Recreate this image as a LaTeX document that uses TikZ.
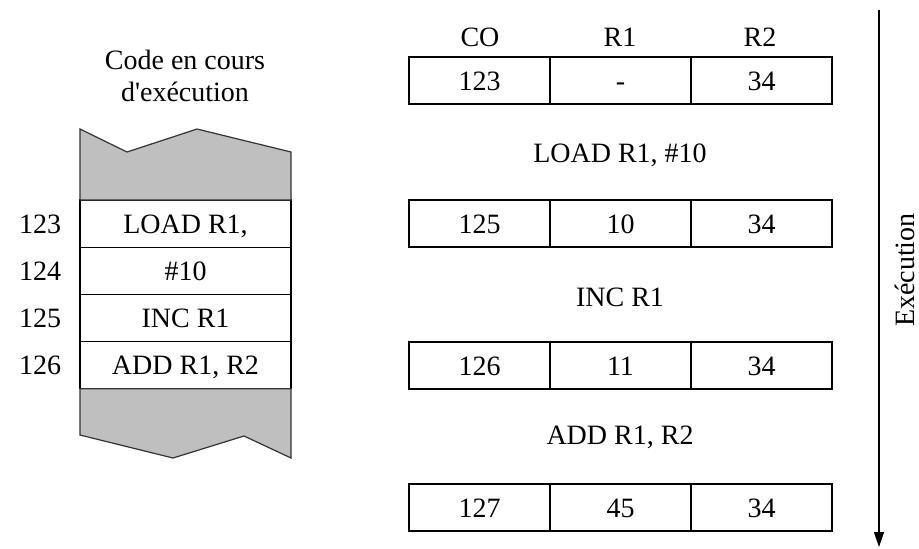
\documentclass[tikz,border=0pt]{standalone}
\usepackage{fontspec}
\setmainfont{Liberation Serif}
\usetikzlibrary{positioning,arrows.meta}

\begin{document}
\begin{tikzpicture}[x=0.5pt,y=-0.5pt, font=\fontsize{14}{16}\selectfont, line width=0.6pt,
  memcell/.style={draw, minimum width=105.5pt, minimum height=23.6pt, inner sep=0pt, outer sep=0pt,
    text height=11.5pt, text depth=2pt},
  regcell/.style={draw, minimum width=70.5pt, minimum height=23.5pt, inner sep=0pt, outer sep=0pt,
    text height=11.5pt, text depth=2pt, anchor=north west},
  zone/.style={fill=black!25, draw=black!80}]
\useasboundingbox (0,0) rectangle (919,548);

% code en memoire
\node[align=center] (titre) at (185,76) {Code en cours\\d\textquotesingle exécution};

\node[memcell, anchor=north west] (m123) at (80,200) {LOAD R1,};
\node[memcell, below=0pt of m123] (m124) {\#10};
\node[memcell, below=0pt of m124] (m125) {INC R1};
\node[memcell, below=0pt of m125] (m126) {ADD R1, R2};

\filldraw[zone] (m123.north west) -- (80,129) -- (127,152) -- (197,129) -- (291,152) -- (m123.north east) -- cycle;
\filldraw[zone] (m126.south west) -- (80,435) -- (173,458) -- (244,436) -- (291,458) -- (m126.south east) -- cycle;

\node (a123) at (40,224) {123};
\node (a124) at (40,271) {124};
\node (a125) at (40,318) {125};
\node (a126) at (40,365) {126};

% etats des registres
\node (hco) at (480,37) {CO};
\node (hr1) at (620,37) {R1};
\node (hr2) at (760,37) {R2};

\foreach \y/\s/\co/\ra/\rb in {57/1/123/-/34, 200/2/125/10/34, 342/3/126/11/34, 484/4/127/45/34} {
  \node[regcell] (co\s) at (409,\y) {\co};
  \node[regcell, right=0pt of co\s] (ra\s) {\ra};
  \node[regcell, right=0pt of ra\s] (rb\s) {\rb};
}

\node (i1) at (620,155) {LOAD R1, \#10};
\node (i2) at (620,297) {INC R1};
\node (i3) at (620,437) {ADD R1, R2};

% axe du temps
\coordinate (tdebut) at (879,10);
\coordinate (tfin) at (879,547);
\draw[-{Stealth[length=7.5pt,width=5pt,inset=0pt]}] (tdebut) -- (tfin);
\node[rotate=90] (exec) at (905,270) {Exécution};
\end{tikzpicture}
\end{document}
